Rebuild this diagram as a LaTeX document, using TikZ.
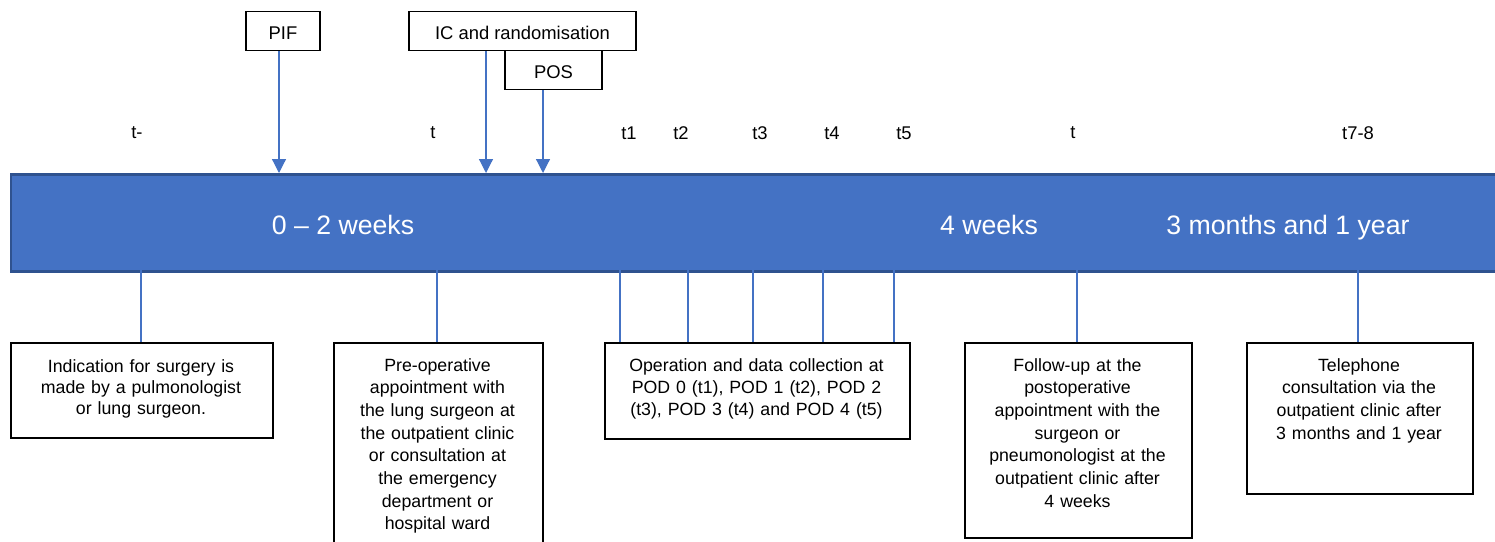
\documentclass[tikz,border=0pt]{standalone}
\usepackage{fontspec}
\setmainfont{Liberation Sans}
\usetikzlibrary{arrows.meta}
\definecolor{barfill}{HTML}{4472C4}
\definecolor{barline}{HTML}{2F528F}
\definecolor{conn}{HTML}{4472C4}
\begin{document}
\begin{tikzpicture}[x=0.75pt,y=-0.75pt,
  every node/.style={font=\fontsize{13.3}{17}\selectfont},
  frame/.style={draw=black,line width=1.2pt,fill=white,inner sep=0pt,anchor=north west},
  boxtext/.style={align=center,anchor=north,inner sep=0pt},
  toplabel/.style={draw=black,line width=1.2pt,fill=white,inner sep=0pt,minimum height=29pt,font=\fontsize{13.8}{16}\selectfont,text height=13pt,text depth=0pt},
  tick/.style={font=\fontsize{13.8}{16}\selectfont},
  bartext/.style={text=white,font=\fontsize{20}{24}\selectfont,text height=14pt,text depth=4pt,inner sep=0pt},
  arr/.style={draw=conn,line width=0.9pt,-{Triangle[width=10.5pt,length=10.5pt]}},
  drop/.style={draw=conn,line width=0.9pt}]
\useasboundingbox (0,0) rectangle (1495,542);
% timeline bar
\node[draw=barline,fill=barfill,line width=2pt,minimum width=1485*0.75pt,minimum height=97*0.75pt,inner sep=0pt,anchor=north west] (bar) at (9.5,173) {};
\node[bartext] (w02) at (343,228) {0 -- 2 weeks};
\node[bartext] (w4) at (989,228) {4 weeks};
\node[bartext] (m3) at (1288,228) {3 months and 1 year};
% top labels
\node[toplabel,minimum width=74*0.75pt] (pif) at (283,31) {PIF};
\node[toplabel,minimum width=227*0.75pt] (ic) at (522.5,31) {IC and randomisation};
\node[toplabel,minimum width=97*0.75pt,minimum height=39*0.75pt] (pos) at (553.5,70) {POS};
\coordinate (apif) at (279,173);
\coordinate (aic) at (486,173);
\coordinate (apos) at (543,173);
\draw[arr] (pif.south -| apif) -- (apif);
\draw[arr] (ic.south -| aic) -- (aic);
\draw[arr] (pos.south -| apos) -- (apos);
% tick labels
\node[tick] (tm) at (137,133) {t-};
\node[tick] (t0) at (433,133) {t};
\node[tick] (t1) at (629,133) {t1};
\node[tick] (t2) at (681,133) {t2};
\node[tick] (t3) at (760,133) {t3};
\node[tick] (t4) at (832,133) {t4};
\node[tick] (t5) at (904,133) {t5};
\node[tick] (t6) at (1073,133) {t};
\node[tick] (t78) at (1358,133) {t7-8};
% boxes
\node[frame,minimum width=262*0.75pt,minimum height=95*0.75pt] (b1) at (10,342) {};
\node[boxtext,text width=255*0.75pt,font=\fontsize{13.3}{16}\selectfont] (b1t) at (141,359) {Indication for surgery is\\made by a pulmonologist\\or lung surgeon.};
\node[frame,minimum width=209*0.75pt,minimum height=210*0.75pt] (b2) at (333,342) {};
\node[boxtext,text width=205*0.75pt] (b2t) at (437.5,358) {Pre-operative\\appointment with\\the lung surgeon at\\the outpatient clinic\\or consultation at\\the emergency\\department or\\hospital ward};
\node[frame,minimum width=305*0.75pt,minimum height=96*0.75pt] (b3) at (604,342) {};
\node[boxtext,text width=300*0.75pt,font=\fontsize{13.3}{16.5}\selectfont] (b3t) at (756.5,358) {Operation and data collection at\\POD 0 (t1), POD 1 (t2), POD 2\\(t3), POD 3 (t4) and POD 4 (t5)};
\node[frame,minimum width=227*0.75pt,minimum height=195*0.75pt] (b4) at (964,342) {};
\node[boxtext,text width=224*0.75pt] (b4t) at (1077.5,358) {Follow-up at the\\postoperative\\appointment with the\\surgeon or\\pneumonologist at the\\outpatient clinic after\\4 weeks};
\node[frame,minimum width=226*0.75pt,minimum height=151*0.75pt] (b5) at (1246,342) {};
\node[boxtext,text width=224*0.75pt] (b5t) at (1359,358) {Telephone\\consultation via the\\outpatient clinic after\\3 months and 1 year};
% drop lines
\coordinate (d1) at (141,270);
\coordinate (d2) at (437,270);
\coordinate (d3a) at (620,270);
\coordinate (d3b) at (688,270);
\coordinate (d3c) at (753,270);
\coordinate (d3d) at (823,270);
\coordinate (d3e) at (894,270);
\coordinate (d4) at (1077,270);
\coordinate (d5) at (1358,270);
\draw[drop] (d1) -- (d1 |- b1.north);
\draw[drop] (d2) -- (d2 |- b2.north);
\draw[drop] (d3a) -- (d3a |- b3.north);
\draw[drop] (d3b) -- (d3b |- b3.north);
\draw[drop] (d3c) -- (d3c |- b3.north);
\draw[drop] (d3d) -- (d3d |- b3.north);
\draw[drop] (d3e) -- (d3e |- b3.north);
\draw[drop] (d4) -- (d4 |- b4.north);
\draw[drop] (d5) -- (d5 |- b5.north);
\end{tikzpicture}
\end{document}
